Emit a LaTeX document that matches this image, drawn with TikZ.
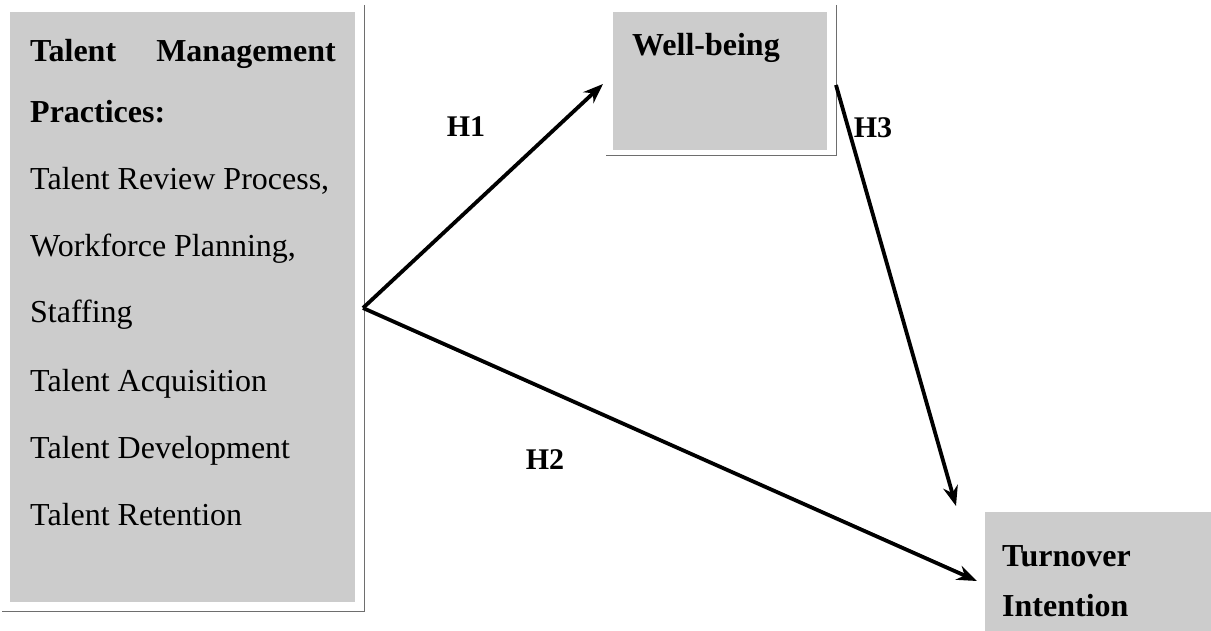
\documentclass[tikz,border=0pt]{standalone}
\usepackage{fontspec}
\setmainfont{Liberation Serif}
\usetikzlibrary{arrows.meta}
\definecolor{boxgray}{RGB}{204,204,204}
\definecolor{edgegray}{RGB}{110,110,110}
\tikzset{
  x=1pt, y=1pt,
  panel/.style={fill=boxgray, draw=none, inner sep=0pt, anchor=north west},
  frameline/.style={draw=edgegray, line width=0.8pt},
  txt/.style={anchor=base west, inner sep=0pt, font=\fontsize{32}{38}\selectfont},
  btxt/.style={txt, font=\fontsize{32}{38}\selectfont\bfseries},
  hlab/.style={inner sep=0pt, font=\fontsize{30}{36}\selectfont\bfseries},
  link/.style={line width=3.8pt, -{Stealth[length=20pt,width=15pt]}}
}
\begin{document}
\begin{tikzpicture}
\useasboundingbox (0,0) rectangle (1211,-631);
% left panel
\node[panel, minimum width=345pt, minimum height=590pt] (tm) at (10,-12) {};
\draw[frameline] (364,-5) -- (364,-611) -- (2,-611);
\node[btxt] (l1a) at (30,-62) {Talent};
\node[btxt, anchor=base east] (l1b) at (336,-62) {Management};
\node[btxt] (l2) at (30,-123) {Practices:};
\node[txt] (l3) at (30,-190) {Talent Review Process,};
\node[txt] (l4) at (30,-257) {Workforce Planning,};
\node[txt] (l5) at (30,-323) {Staffing};
\node[txt] (l6) at (30,-391) {Talent Acquisition};
\node[txt] (l7) at (30,-458) {Talent Development};
\node[txt] (l8) at (30,-525) {Talent Retention};
% well-being panel
\node[panel, minimum width=214pt, minimum height=138pt] (wb) at (613,-12) {};
\draw[frameline] (836,-5) -- (836,-155) -- (606,-155);
\node[btxt] (wbt) at (632,-56) {Well-being};
% turnover panel
\node[panel, minimum width=226pt, minimum height=119pt] (ti) at (985,-512) {};
\node[btxt] (ti1) at (1002,-566) {Turnover};
\node[btxt] (ti2) at (1002,-616) {Intention};
% connectors
\coordinate (v) at (363,-308);
\coordinate (wbin) at (603,-84);
\coordinate (wbout) at (836,-85);
\coordinate (tiin1) at (956,-506);
\coordinate (tiin2) at (977,-581);
\draw[link] (v) -- (wbin);
\draw[link] (v) -- (tiin2);
\draw[link] (wbout) -- (tiin1);
\node[hlab] (h1) at (466,-127) {H1};
\node[hlab] (h2) at (545,-460) {H2};
\node[hlab] (h3) at (873,-128) {H3};
\end{tikzpicture}
\end{document}
